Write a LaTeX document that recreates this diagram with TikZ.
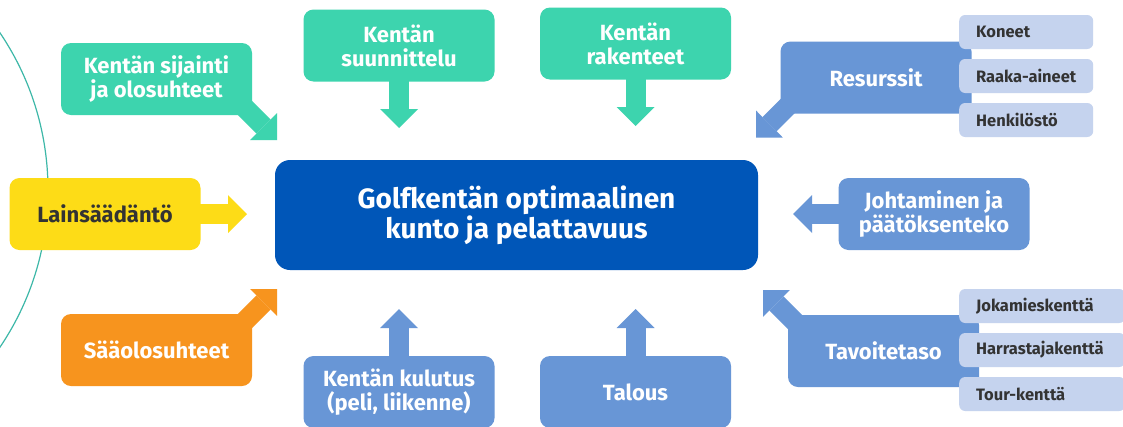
\documentclass[tikz,border=0pt]{standalone}
\usepackage{fontspec}
\setmainfont{Fira Sans}
\usetikzlibrary{arrows.meta,backgrounds,calc}
\definecolor{grn}{HTML}{3DD4AE}
\definecolor{dblue}{HTML}{0056B8}
\definecolor{mblue}{HTML}{6896D6}
\definecolor{lblue}{HTML}{C5D3EE}
\definecolor{ylw}{HTML}{FDDC17}
\definecolor{org}{HTML}{F7941E}
\definecolor{dtext}{HTML}{333333}
\definecolor{arcc}{HTML}{3DB8A8}
\newcommand{\subtxt}[2]{\hspace*{17pt}\makebox[#1][l]{#2}}
\begin{document}
\begin{tikzpicture}[x=1pt,y=-1pt,
 box/.style={rounded corners=10pt, minimum width=191pt, minimum height=72pt, align=center, inner sep=0pt, font=\fontsize{22}{24}\selectfont\bfseries, text=white},
 subbox/.style={rounded corners=6pt, fill=lblue, minimum height=34pt, inner sep=0pt, anchor=west, text=dtext, font=\fontsize{16.5}{18}\selectfont\bfseries},
 arr/.style={line width=20pt, -{Triangle[length=19pt,width=38pt,line width=0pt]}}
]
\useasboundingbox (0,0) rectangle (1123,426);

% central
\node[rounded corners=15pt, fill=dblue, minimum width=483pt, minimum height=110pt, inner sep=0pt, align=center, text=white, font=\fontsize{28}{28}\selectfont\bfseries] (c) at (516.5,215) {Golfkentän optimaalinen\\kunto ja pelattavuus};

% boxes
\node[box, fill=grn] (sij) at (156.5,79) {Kentän sijainti\\ja olosuhteet};
\node[box, fill=grn] (suun) at (399,45.5) {Kentän\\suunnittelu};
\node[box, fill=grn] (rak) at (635.5,43.5) {Kentän\\rakenteet};
\node[box, fill=mblue] (res) at (876,77.5) {Resurssit};
\node[box, fill=ylw, text=dtext] (lain) at (105,214) {Lainsäädäntö};
\node[box, fill=mblue] (joh) at (934,214) {Johtaminen ja\\päätöksenteko};
\node[box, fill=org] (saa) at (156.5,350) {Sääolosuhteet};
\node[box, fill=mblue] (kul) at (399,392) {Kentän kulutus\\(peli, liikenne)};
\node[box, fill=mblue] (tal) at (635.5,392) {Talous};
\node[box, fill=mblue] (tav) at (883.5,351) {Tavoitetaso};

% sub boxes
\node[subbox] (kon) at (959,32) {\subtxt{117pt}{Koneet}};
\node[subbox] (raa) at (959,76) {\subtxt{117pt}{Raaka-aineet}};
\node[subbox] (hen) at (959,120) {\subtxt{117pt}{Henkilöstö}};
\node[subbox] (jok) at (959,306) {\subtxt{149pt}{Jokamieskenttä}};
\node[subbox] (har) at (959,350) {\subtxt{149pt}{Harrastajakenttä}};
\node[subbox] (tou) at (959,394) {\subtxt{149pt}{Tour-kenttä}};

% arrow tips
\coordinate (tsij) at (277,140);
\coordinate (tsuun) at (399,128);
\coordinate (trak) at (635.5,126);
\coordinate (tres) at (756,137.5);
\coordinate (tlain) at (247,214);
\coordinate (tjoh) at (793,214);
\coordinate (tsaa) at (277,289);
\coordinate (tkul) at (399,309);
\coordinate (ttal) at (635.5,309);
\coordinate (ttav) at (763,290);

\begin{scope}[on background layer]
\fill[white] (0,0) rectangle (1123,426);
\draw[arcc, line width=1.2pt] (-233,190) circle (281);
\draw[arr, grn] ($(sij.south east)+(-25,-25)$) -- (tsij);
\draw[arr, grn] (suun.center) -- (tsuun);
\draw[arr, grn] (rak.center) -- (trak);
\draw[arr, mblue] ($(res.south west)+(25,-25)$) -- (tres);
\draw[arr, ylw] (lain.center) -- (tlain);
\draw[arr, mblue] (joh.center) -- (tjoh);
\draw[arr, org] ($(saa.north east)+(-25,25)$) -- (tsaa);
\draw[arr, mblue] (kul.center) -- (tkul);
\draw[arr, mblue] (tal.center) -- (ttal);
\draw[arr, mblue] ($(tav.north west)+(25,25)$) -- (ttav);
\end{scope}
\end{tikzpicture}
\end{document}
